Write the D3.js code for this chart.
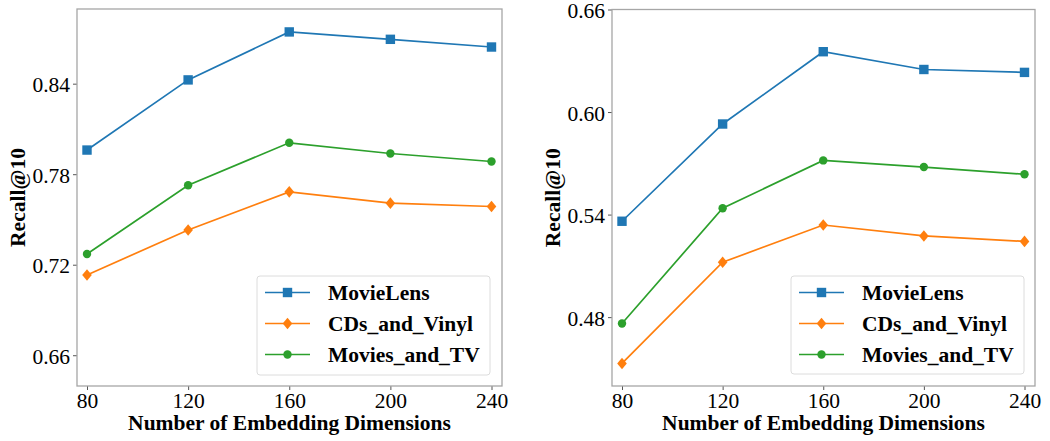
<!DOCTYPE html>
<html>
<head>
<meta charset="utf-8">
<script src="https://cdn.jsdelivr.net/npm/d3@7"></script>
<style>
  body { margin: 0; background: #fff; }
  svg text { font-family: "Liberation Serif", "Times New Roman", serif; }
</style>
</head>
<body>
<svg id="chart" width="1050" height="441"></svg>
<script>
// DATA
const dims = [80, 120, 160, 200, 240];
const seriesNames = ["MovieLens", "CDs_and_Vinyl", "Movies_and_TV"];
const seriesColors = ["#1f77b4", "#ff7f0e", "#2ca02c"];
const seriesMarkers = ["square", "diamond", "circle"];

// left panel
const leftMovieLens = [0.796, 0.8425, 0.8743, 0.8694, 0.8643];
const leftCDs = [0.7132, 0.743, 0.7683, 0.7608, 0.7586];
const leftMoviesTV = [0.7271, 0.7727, 0.8008, 0.7937, 0.7884];
const leftTicks = [0.66, 0.72, 0.78, 0.84];
const leftDomain = [0.6396, 0.8895];

// right panel
const rightMovieLens = [0.5361, 0.593, 0.6353, 0.6249, 0.6232];
const rightCDs = [0.4529, 0.5121, 0.5339, 0.5275, 0.5243];
const rightMoviesTV = [0.4763, 0.5437, 0.5717, 0.5678, 0.5636];
const rightTicks = [0.48, 0.54, 0.60, 0.66];
const rightDomain = [0.4397, 0.66];

const svg = d3.select("#chart");
const fontSize = 21.5;
const serif = "Liberation Serif, Times New Roman, serif";
const frameColor = "#a6a6a6";
const tickColor = "#555";

function drawMarker(g, type, color) {
  if (type === "square") {
    g.append("rect")
      .attr("x", -4.7).attr("y", -4.7)
      .attr("width", 9.4).attr("height", 9.4)
      .attr("fill", color);
  } else if (type === "diamond") {
    g.append("path")
      .attr("d", "M0,-5.8L4.8,0L0,5.8L-4.8,0Z")
      .attr("fill", color);
  } else {
    g.append("circle").attr("r", 4.2).attr("fill", color);
  }
}

function panel(box, series, domain, ticks, legendBox) {
  const x = d3.scaleLinear().domain([80, 240]).range([box.x0 + 10, box.x1 - 10.5]);
  const y = d3.scaleLinear().domain(domain).range([box.y1, box.y0]);
  const g = svg.append("g");

  // y axis ticks + labels
  const ya = g.append("g")
    .attr("transform", `translate(${box.x0},0)`)
    .call(d3.axisLeft(y).tickValues(ticks).tickFormat(d3.format(".2f")).tickSize(4).tickPadding(3))
    .attr("font-family", serif)
    .attr("font-size", fontSize);
  ya.select(".domain").remove();
  ya.selectAll(".tick line").attr("stroke", tickColor);
  ya.selectAll(".tick text").attr("fill", "#000").attr("dy", "0.37em");

  const xa = g.append("g")
    .attr("transform", `translate(0,${box.y1})`)
    .call(d3.axisBottom(x).tickValues(dims).tickSize(4).tickPadding(3))
    .attr("font-family", serif)
    .attr("font-size", fontSize);
  xa.select(".domain").remove();
  xa.selectAll(".tick line").attr("stroke", tickColor);
  xa.selectAll(".tick text").attr("fill", "#000");

  // frame
  g.append("rect")
    .attr("x", box.x0).attr("y", box.y0)
    .attr("width", box.x1 - box.x0).attr("height", box.y1 - box.y0)
    .attr("fill", "none").attr("stroke", frameColor).attr("stroke-width", 1.3);

  // lines
  const line = d3.line().x((d, i) => x(dims[i])).y((d) => y(d));
  series.forEach((vals, k) => {
    g.append("path")
      .datum(vals)
      .attr("d", line)
      .attr("fill", "none")
      .attr("stroke", seriesColors[k])
      .attr("stroke-width", 1.7);
    vals.forEach((v, i) => {
      const m = g.append("g").attr("transform", `translate(${x(dims[i])},${y(v)})`);
      drawMarker(m, seriesMarkers[k], seriesColors[k]);
    });
  });

  // axis labels
  g.append("text")
    .attr("x", (box.x0 + box.x1) / 2).attr("y", 430)
    .attr("text-anchor", "middle")
    .attr("font-family", serif)
    .attr("font-size", fontSize).attr("font-weight", "bold")
    .text("Number of Embedding Dimensions");
  g.append("text")
    .attr("transform", `translate(${box.ylab},${(box.y0 + box.y1) / 2}) rotate(-90)`)
    .attr("text-anchor", "middle")
    .attr("font-family", serif)
    .attr("font-size", fontSize).attr("font-weight", "bold")
    .text("Recall@10");

  // legend
  const lg = g.append("g");
  lg.append("rect")
    .attr("x", legendBox.x0).attr("y", legendBox.y0)
    .attr("width", legendBox.x1 - legendBox.x0).attr("height", legendBox.y1 - legendBox.y0)
    .attr("rx", 3)
    .attr("fill", "#fff").attr("fill-opacity", 0.8)
    .attr("stroke", "#dcdcdc").attr("stroke-width", 1);
  seriesNames.forEach((name, k) => {
    const ly = legendBox.y0 + 16.5 + k * 31;
    lg.append("line")
      .attr("x1", legendBox.x0 + 8).attr("x2", legendBox.x0 + 53)
      .attr("y1", ly).attr("y2", ly)
      .attr("stroke", seriesColors[k]).attr("stroke-width", 1.7);
    drawMarker(lg.append("g").attr("transform", `translate(${legendBox.x0 + 30.5},${ly})`),
      seriesMarkers[k], seriesColors[k]);
    lg.append("text")
      .attr("x", legendBox.x0 + 71).attr("y", ly + 7.5)
      .attr("font-family", serif)
      .attr("font-size", fontSize).attr("font-weight", "bold")
      .text(name);
  });
}

panel({ x0: 77, x1: 502, y0: 9, y1: 386, ylab: 25 },
  [leftMovieLens, leftCDs, leftMoviesTV], leftDomain, leftTicks,
  { x0: 257, x1: 490, y0: 276, y1: 375 });

panel({ x0: 612, x1: 1035, y0: 9.5, y1: 386, ylab: 560 },
  [rightMovieLens, rightCDs, rightMoviesTV], rightDomain, rightTicks,
  { x0: 791, x1: 1024, y0: 276, y1: 374 });
</script>
</body>
</html>
